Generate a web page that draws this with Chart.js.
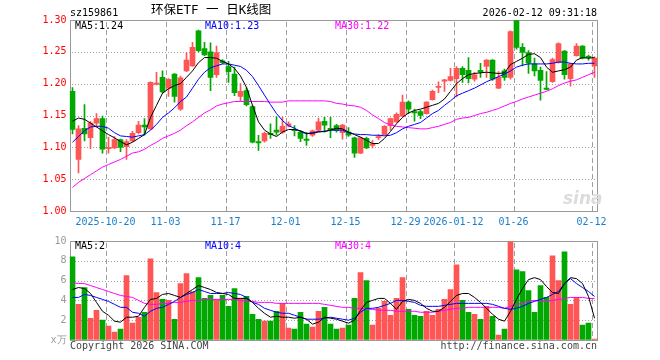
<!DOCTYPE html>
<html>
<head>
<meta charset="utf-8">
<script src="https://cdn.jsdelivr.net/npm/chart.js@4"></script>
<style>
body { margin: 0; background: #fff; width: 660px; height: 360px; position: relative; overflow: hidden;
  font-family: 'DejaVu Sans Mono', monospace; font-size: 10px; }
canvas { position: absolute; left: 0; }
.t { position: absolute; white-space: nowrap; line-height: 1; }
</style>
</head>
<body>
<canvas id="kChart" width="660" height="232" style="top:0"></canvas>
<canvas id="volChart" width="660" height="128" style="top:232px"></canvas>

<div class="t" style="left:70px;top:7.5px">sz159861</div>
<div class="t" style="left:151px;top:4px;font-size:12.5px;font-family:'DejaVu Sans Mono','Noto Sans CJK SC'">环保ETF 一 日K线图</div>
<div class="t" style="right:63px;top:7.5px">2026-02-12 09:31:18</div>
<div class="t" id="lgMa5" style="left:75px;top:20.5px;color:#000"></div>
<div class="t" id="lgMa10" style="left:205px;top:20.5px;color:#0000ff"></div>
<div class="t" id="lgMa30" style="left:335px;top:20.5px;color:#ff00ff"></div>
<div class="t" id="lgVma5" style="left:75px;top:240.5px;color:#000"></div>
<div class="t" id="lgVma10" style="left:205px;top:240.5px;color:#0000ff"></div>
<div class="t" id="lgVma30" style="left:335px;top:240.5px;color:#ff00ff"></div>
<div class="t" style="left:563px;top:188px;font:italic bold 17px 'DejaVu Sans';color:#dcdcdc">sina</div>
<div class="t" style="left:70px;top:340.5px;color:#444">Copyright 2026 SINA.COM</div>
<div class="t" style="right:63px;top:340.5px;color:#444">http://finance.sina.com.cn</div>

<script>
// trading days 2025-10-10 .. 2026-02-12
const dates = [
	'2025-10-10','2025-10-13','2025-10-14','2025-10-15','2025-10-16','2025-10-17',
	'2025-10-20','2025-10-21','2025-10-22','2025-10-23','2025-10-24',
	'2025-10-27','2025-10-28','2025-10-29','2025-10-30','2025-10-31',
	'2025-11-03','2025-11-04','2025-11-05','2025-11-06','2025-11-07',
	'2025-11-10','2025-11-11','2025-11-12','2025-11-13','2025-11-14',
	'2025-11-17','2025-11-18','2025-11-19','2025-11-20','2025-11-21',
	'2025-11-24','2025-11-25','2025-11-26','2025-11-27','2025-11-28',
	'2025-12-01','2025-12-02','2025-12-03','2025-12-04','2025-12-05',
	'2025-12-08','2025-12-09','2025-12-10','2025-12-11','2025-12-12',
	'2025-12-15','2025-12-16','2025-12-17','2025-12-18','2025-12-19',
	'2025-12-22','2025-12-23','2025-12-24','2025-12-25','2025-12-26',
	'2025-12-29','2025-12-30','2025-12-31',
	'2026-01-05','2026-01-06','2026-01-07','2026-01-08','2026-01-09',
	'2026-01-12','2026-01-13','2026-01-14','2026-01-15','2026-01-16',
	'2026-01-19','2026-01-20','2026-01-21','2026-01-22','2026-01-23',
	'2026-01-26','2026-01-27','2026-01-28','2026-01-29','2026-01-30',
	'2026-02-02','2026-02-03','2026-02-04','2026-02-05','2026-02-06',
	'2026-02-09','2026-02-10','2026-02-11','2026-02-12',
];

// axis labels shown under the price panel
const tickLabels = {
	'2025-10-20': '2025-10-20', '2025-11-03': '11-03', '2025-11-17': '11-17',
	'2025-12-01': '12-01', '2025-12-15': '12-15', '2025-12-29': '12-29',
	'2026-01-12': '2026-01-12', '2026-01-26': '01-26', '2026-02-12': '02-12',
};

const opens = [
	1.188,1.081,1.130,1.115,1.138,1.145,1.098,1.099,1.112,1.101,
	1.110,1.123,1.135,1.129,1.199,1.210,1.193,1.215,1.160,1.220,
	1.228,1.283,1.255,1.250,1.214,1.236,1.227,1.215,1.180,1.189,
	1.164,1.109,1.110,1.122,1.127,1.124,1.134,1.128,1.124,1.113,
	1.119,1.127,1.141,1.130,1.134,1.123,1.124,1.115,1.091,1.114,
	1.103,1.115,1.120,1.134,1.140,1.149,1.171,1.156,1.156,1.153,
	1.175,1.194,1.204,1.205,1.208,1.224,1.221,1.207,1.221,1.227,
	1.237,1.193,1.220,1.210,1.299,1.257,1.249,1.231,1.221,1.193,
	1.203,1.233,1.251,1.208,1.244,1.259,1.243,1.228,
];
const highs = [
	1.194,1.134,1.167,1.141,1.153,1.149,1.116,1.117,1.113,1.112,
	1.125,1.141,1.145,1.203,1.218,1.220,1.208,1.216,1.212,1.249,
	1.265,1.284,1.265,1.264,1.259,1.238,1.235,1.226,1.200,1.194,
	1.166,1.119,1.124,1.137,1.148,1.147,1.140,1.134,1.126,1.123,
	1.127,1.146,1.147,1.147,1.136,1.136,1.131,1.116,1.116,1.116,
	1.111,1.120,1.134,1.146,1.154,1.182,1.173,1.160,1.158,1.172,
	1.190,1.203,1.207,1.224,1.227,1.227,1.241,1.218,1.232,1.238,
	1.238,1.219,1.223,1.283,1.300,1.263,1.252,1.240,1.226,1.219,
	1.240,1.264,1.252,1.232,1.263,1.260,1.245,1.242,
];
const lows = [
	1.121,1.060,1.110,1.098,1.132,1.091,1.091,1.098,1.093,1.081,
	1.109,1.121,1.119,1.128,1.198,1.185,1.180,1.171,1.158,1.219,
	1.227,1.250,1.244,1.189,1.210,1.231,1.202,1.181,1.173,1.165,
	1.107,1.095,1.108,1.114,1.119,1.122,1.132,1.118,1.109,1.103,
	1.117,1.125,1.124,1.115,1.124,1.113,1.117,1.084,1.090,1.098,
	1.099,1.112,1.119,1.127,1.139,1.148,1.153,1.141,1.145,1.152,
	1.174,1.186,1.188,1.204,1.179,1.202,1.201,1.204,1.210,1.210,
	1.205,1.192,1.205,1.207,1.254,1.228,1.216,1.212,1.174,1.190,
	1.202,1.232,1.207,1.196,1.243,1.239,1.237,1.210,
];
const closes = [
	1.128,1.129,1.121,1.138,1.145,1.097,1.100,1.112,1.100,1.109,
	1.122,1.135,1.132,1.202,1.201,1.187,1.207,1.180,1.209,1.237,
	1.257,1.252,1.245,1.210,1.249,1.233,1.219,1.186,1.188,1.167,
	1.108,1.107,1.122,1.120,1.124,1.133,1.137,1.126,1.114,1.111,
	1.126,1.140,1.135,1.127,1.126,1.135,1.119,1.091,1.115,1.099,
	1.106,1.117,1.133,1.145,1.152,1.171,1.160,1.154,1.150,1.171,
	1.188,1.196,1.206,1.211,1.224,1.214,1.208,1.214,1.218,1.237,
	1.207,1.210,1.210,1.282,1.257,1.249,1.232,1.220,1.205,1.191,
	1.238,1.263,1.214,1.231,1.259,1.240,1.241,1.240,
];

const ma5 = [
	1.141,1.146,1.144,1.138,1.132,1.126,1.120,1.115,1.109,1.104,
	1.108,1.114,1.120,1.147,1.166,1.185,1.192,1.197,1.200,1.210,
	1.220,1.233,1.241,1.241,1.240,1.235,1.231,1.224,1.212,1.194,
	1.166,1.140,1.127,1.121,1.117,1.124,1.128,1.128,1.126,1.122,
	1.122,1.124,1.125,1.127,1.130,1.129,1.124,1.120,1.116,1.111,
	1.106,1.106,1.114,1.125,1.137,1.147,1.154,1.158,1.160,1.163,
	1.166,1.169,1.176,1.188,1.200,1.208,1.214,1.216,1.217,1.218,
	1.217,1.216,1.217,1.230,1.235,1.240,1.246,1.247,1.241,1.226,
	1.218,1.220,1.222,1.226,1.237,1.241,1.240,1.241,
];
const ma10 = [
	1.108,1.117,1.126,1.132,1.133,1.133,1.130,1.123,1.118,1.117,
	1.116,1.118,1.120,1.127,1.136,1.147,1.154,1.162,1.172,1.179,
	1.193,1.207,1.218,1.225,1.228,1.231,1.231,1.229,1.227,1.221,
	1.211,1.197,1.182,1.167,1.153,1.142,1.134,1.130,1.125,1.121,
	1.123,1.125,1.125,1.127,1.127,1.127,1.123,1.121,1.120,1.120,
	1.119,1.119,1.118,1.119,1.123,1.129,1.133,1.136,1.139,1.146,
	1.153,1.158,1.166,1.173,1.181,1.185,1.189,1.193,1.198,1.203,
	1.207,1.211,1.215,1.220,1.226,1.229,1.231,1.231,1.231,1.231,
	1.232,1.234,1.234,1.232,1.231,1.231,1.232,1.232,
];
const ma30 = [
	1.037,1.045,1.051,1.057,1.063,1.069,1.073,1.077,1.081,1.086,
	1.091,1.093,1.097,1.103,1.108,1.114,1.118,1.122,1.127,1.134,
	1.140,1.147,1.154,1.159,1.165,1.168,1.170,1.172,1.172,1.172,
	1.172,1.172,1.172,1.171,1.171,1.171,1.173,1.173,1.173,1.173,
	1.173,1.173,1.173,1.172,1.169,1.168,1.166,1.165,1.163,1.158,
	1.151,1.145,1.139,1.135,1.133,1.132,1.131,1.130,1.129,1.129,
	1.131,1.133,1.136,1.139,1.144,1.146,1.147,1.150,1.153,1.155,
	1.158,1.161,1.165,1.169,1.172,1.176,1.179,1.182,1.185,1.188,
	1.192,1.197,1.201,1.204,1.206,1.210,1.214,1.218,
];

// volume, 万
const volumes = [
	8.4,3.6,5.3,2.2,3.0,2.0,1.4,0.8,1.1,6.5,
	1.7,2.3,2.8,8.2,4.8,4.1,4.0,2.1,5.7,6.7,
	4.9,6.3,4.2,4.5,4.1,4.5,3.4,5.2,4.2,4.4,
	2.6,2.1,1.9,1.9,2.9,3.7,1.2,1.1,2.8,1.6,
	1.3,2.9,3.3,1.6,1.1,1.2,1.5,4.2,6.8,6.0,
	1.5,3.2,3.9,2.5,4.2,6.3,3.1,2.5,2.4,2.9,
	2.5,3.1,4.1,5.1,7.6,4.0,2.8,2.6,2.1,3.4,
	2.4,0.5,1.1,9.9,7.1,6.9,5.0,2.8,5.5,4.3,
	8.5,6.0,8.9,3.6,4.3,1.5,1.7,0.1,
];
const volMa5 = [
	5.1,5.3,5.2,4.7,3.8,2.9,2.5,1.9,1.8,2.3,
	2.3,2.4,3.3,4.1,4.2,4.6,4.7,4.5,4.3,4.7,
	5.1,5.5,5.3,5.1,4.8,4.7,4.6,4.2,4.2,4.2,
	3.8,3.2,2.7,2.3,2.4,2.3,2.3,2.2,2.3,2.1,
	1.6,1.8,2.3,2.2,2.1,1.9,1.7,2.0,3.0,3.8,
	4.0,4.2,4.2,3.7,3.1,3.9,4.1,4.0,3.7,3.2,
	2.9,2.9,3.3,3.9,4.5,4.7,4.7,4.3,3.8,3.2,
	2.6,2.1,1.9,2.9,4.1,5.2,6.1,6.3,6.1,5.4,
	4.8,4.7,5.7,6.3,6.2,5.7,4.4,2.2,
];
const volMa10 = [
	4.3,4.3,4.6,4.5,4.3,4.1,3.9,3.6,3.3,3.3,
	2.8,2.7,2.4,2.9,3.2,3.3,3.6,3.9,4.3,4.6,
	4.8,5.1,4.9,4.7,4.7,4.7,4.8,4.7,4.6,4.3,
	3.8,3.6,3.2,3.0,2.8,2.7,2.7,2.5,2.3,2.1,
	2.1,2.1,2.2,2.3,2.2,2.1,2.0,2.2,2.8,3.2,
	3.2,3.3,3.5,3.7,4.0,4.0,3.9,3.8,3.5,3.4,
	3.4,3.4,3.5,3.6,3.7,3.7,3.7,3.7,3.7,3.7,
	3.6,3.4,3.2,3.1,3.2,3.4,3.7,3.9,4.1,4.3,
	4.6,4.9,5.7,6.2,5.7,5.3,4.9,4.4,
];
const volMa30 = [
	5.8,5.7,5.7,5.5,5.3,5.1,4.9,4.7,4.5,4.4,
	4.3,4.0,3.7,3.6,3.6,3.7,3.7,3.8,3.8,3.9,
	4.0,4.0,4.1,4.1,4.1,4.1,4.1,4.1,4.0,3.9,
	3.9,3.8,3.8,3.8,3.7,3.7,3.7,3.7,3.7,3.7,
	3.7,3.7,3.6,3.5,3.4,3.3,3.3,3.2,3.2,3.1,
	3.1,3.0,3.0,3.0,2.9,2.9,2.9,2.9,2.8,2.8,
	2.8,2.9,3.0,3.1,3.2,3.2,3.3,3.3,3.3,3.3,
	3.3,3.3,3.2,3.4,3.6,3.7,3.9,4.0,3.9,3.9,
	4.0,4.1,4.2,4.3,4.3,4.3,4.2,4.2,
];

const RED = '#ff5555';
const GREEN = '#00a800';
const GRID = '#a0a0a0';
const FONT = { family: "'DejaVu Sans Mono', monospace", size: 10 };

const up = closes.map((c, i) => c >= opens[i]);
const candleColor = ctx => up[ctx.dataIndex] ? RED : GREEN;
const last = arr => arr[arr.length - 1];

// legends from the last values
document.getElementById('lgMa5').textContent = 'MA5:' + last(ma5).toFixed(2);
document.getElementById('lgMa10').textContent = 'MA10:' + last(ma10).toFixed(2);
document.getElementById('lgMa30').textContent = 'MA30:' + last(ma30).toFixed(2);
document.getElementById('lgVma5').textContent = 'MA5:' + Math.round(last(volMa5));
document.getElementById('lgVma10').textContent = 'MA10:' + Math.round(last(volMa10));
document.getElementById('lgVma30').textContent = 'MA30:' + Math.round(last(volMa30));

// dotted value lines, dashed date lines and the gray box, placed from the chart scales
const panelGrid = {
	id: 'panelGrid',
	beforeDatasetsDraw(chart) {
		const { ctx, chartArea: a, scales: { x, y } } = chart;
		const left = Math.ceil(a.left);
		const right = Math.floor(a.right);
		const top = Math.round(a.top);
		const bottom = Math.round(a.bottom);
		ctx.save();
		ctx.fillStyle = GRID;
		y.ticks.forEach(t => {
			const py = Math.round(y.getPixelForValue(t.value));
			if (py <= top + 1 || py >= bottom - 1) return;
			for (let px = left + 2; px < right; px += 3) ctx.fillRect(px, py, 1, 1);
		});
		const half = (x.getPixelForValue(1) - x.getPixelForValue(0)) / 2;
		dates.forEach((d, i) => {
			if (!tickLabels[d]) return;
			const px = Math.round(x.getPixelForValue(i) - half);
			for (let py = top + 2; py < bottom; py += 8) ctx.fillRect(px, py, 1, Math.min(5, bottom - py));
		});
		ctx.strokeStyle = '#999';
		ctx.lineWidth = 1;
		ctx.strokeRect(left + 0.5, top + 0.5, right - left, bottom - top);
		ctx.restore();
	},
};

function maLine(data, color) {
	return {
		type: 'line', data: data, borderColor: color, borderWidth: 1,
		pointRadius: 0, tension: 0, fill: false, order: 0,
	};
}

function xScale(showLabels, height) {
	return {
		type: 'category',
		offset: true,
		grid: { offset: true, color: 'rgba(0,0,0,0)', drawTicks: false },
		border: { display: false },
		ticks: {
			display: showLabels, autoSkip: false, maxRotation: 0, minRotation: 0,
			color: '#1a7ecb', font: FONT, padding: 5, labelOffset: -3,
			callback: (v, i) => tickLabels[dates[i]] || '',
		},
		afterFit: s => { s.height = height; },
	};
}

const baseOptions = {
	responsive: false,
	animation: false,
	devicePixelRatio: 1,
	events: [],
	plugins: { legend: { display: false }, tooltip: { enabled: false } },
};

const kConfig = {
	type: 'bar',
	data: {
		labels: dates,
		datasets: [
			maLine(ma5, '#000000'),
			maLine(ma10, '#0000ff'),
			maLine(ma30, '#ff00ff'),
			{
				label: 'body', data: opens.map((o, i) => [o, closes[i]]),
				backgroundColor: candleColor, barThickness: 5, minBarLength: 1,
				grouped: false, order: 1,
			},
			{
				label: 'wick', data: lows.map((l, i) => [l, highs[i]]),
				backgroundColor: candleColor, barThickness: 1, minBarLength: 1,
				grouped: false, order: 2,
			},
		],
	},
	options: {
		...baseOptions,
		layout: { padding: { left: 0, right: 62.5, top: 20, bottom: 0 } },
		scales: {
			x: xScale(true, 21),
			y: {
				min: 1.0, max: 1.3,
				grid: { color: 'rgba(0,0,0,0)', drawTicks: false },
				border: { display: false },
				ticks: { stepSize: 0.05, color: '#ff0000', font: FONT, padding: 3, callback: v => v.toFixed(2) },
				afterFit: s => { s.width = 69.5; },
			},
		},
	},
	plugins: [panelGrid],
};

const volConfig = {
	type: 'bar',
	data: {
		labels: dates,
		datasets: [
			maLine(volMa5, '#000000'),
			maLine(volMa10, '#0000ff'),
			maLine(volMa30, '#ff00ff'),
			{
				label: 'volume', data: volumes,
				backgroundColor: candleColor, barThickness: 5,
				grouped: false, order: 1,
			},
		],
	},
	options: {
		...baseOptions,
		layout: { padding: { left: 0, right: 62.5, top: 8, bottom: 20 } },
		scales: {
			x: xScale(false, 0),
			y: {
				min: 0, max: 10,
				grid: { color: 'rgba(0,0,0,0)', drawTicks: false },
				border: { display: false },
				ticks: { stepSize: 2, color: '#999', font: FONT, padding: 3, callback: v => v === 0 ? 'x万' : v },
				afterFit: s => { s.width = 69.5; },
			},
		},
	},
	plugins: [panelGrid],
};

const kChart = new Chart(document.getElementById('kChart'), kConfig);
const volChart = new Chart(document.getElementById('volChart'), volConfig);
</script>
</body>
</html>
